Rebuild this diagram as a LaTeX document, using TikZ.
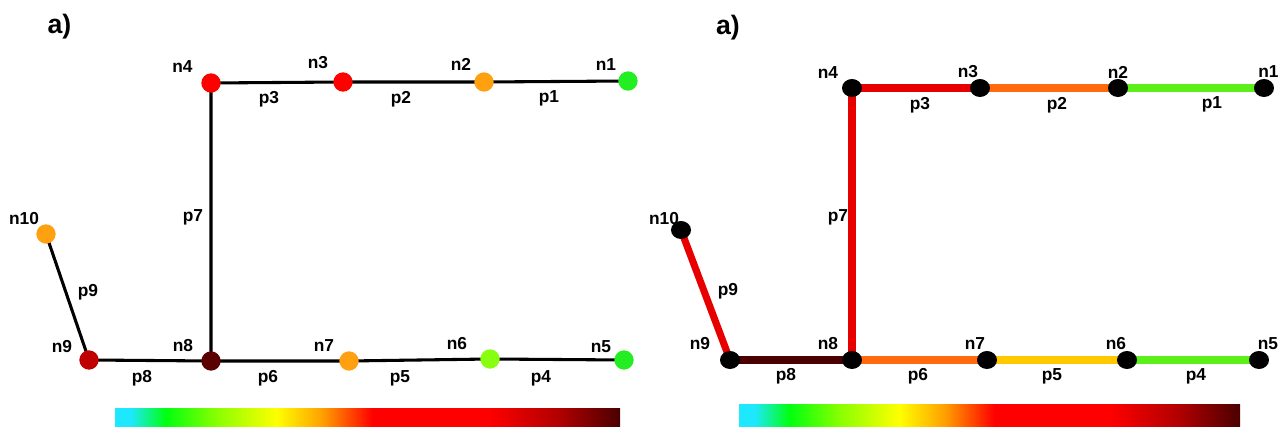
\documentclass[tikz,border=0pt]{standalone}
\usepackage{fontspec}
\setmainfont{Liberation Sans}
\usetikzlibrary{backgrounds,shapes.geometric}
\definecolor{cbA}{HTML}{1EE8FF}
\definecolor{cbB}{HTML}{00FF10}
\definecolor{cbC}{HTML}{88FF00}
\definecolor{cbD}{HTML}{FFFF00}
\definecolor{cbE}{HTML}{FFA000}
\definecolor{cbF}{HTML}{FF0000}
\definecolor{cbG}{HTML}{B00000}
\definecolor{cbH}{HTML}{4A0000}
\pgfdeclarehorizontalshading{cbar}{100bp}{color(0bp)=(cbA); color(25bp)=(cbA); color(26.5bp)=(cbA); color(30bp)=(cbB); color(35bp)=(cbC); color(41bp)=(cbD); color(45.5bp)=(cbE); color(50.5bp)=(cbF); color(62bp)=(cbF); color(69bp)=(cbG); color(75bp)=(cbH); color(100bp)=(cbH)}
\definecolor{ngreen}{HTML}{22EE22}
\definecolor{nlime}{HTML}{88FF10}
\definecolor{norange}{HTML}{FFA010}
\definecolor{nred}{HTML}{FF0000}
\definecolor{ndkred}{HTML}{C00000}
\definecolor{nbrown}{HTML}{5A0000}
\definecolor{egreen}{HTML}{5CF01A}
\definecolor{eorange}{HTML}{FF6A10}
\definecolor{ered}{HTML}{E80000}
\definecolor{egold}{HTML}{FFC800}
\definecolor{ebrown}{HTML}{4A0000}
\begin{document}
\begin{tikzpicture}[x=0.75pt,y=-0.75pt,
  lbl/.style={inner sep=0pt,font=\fontsize{13}{15}\selectfont\bfseries},
  ttl/.style={inner sep=0pt,font=\fontsize{20}{24}\selectfont\bfseries},
  ldot/.style={circle,inner sep=0pt,minimum size=14.5pt},
  rdot/.style={ellipse,inner sep=0pt,minimum width=15pt,minimum height=13.5pt,fill=black},
  thinedge/.style={line width=2.3pt,draw=black},
  thickedge/.style={line width=5.3pt}]
\useasboundingbox (0,0) rectangle (1279,427);
% ---------- left panel ----------
\node[ttl] (LA) at (59.5,27) {a)};
\node[ldot,fill=ngreen]  (L1) at (628,81) {};
\node[ldot,fill=norange] (L2) at (484,82) {};
\node[ldot,fill=nred]    (L3) at (343,82) {};
\node[ldot,fill=nred]    (L4) at (211,83) {};
\node[ldot,fill=ngreen]  (L5) at (624,360) {};
\node[ldot,fill=nlime]   (L6) at (490,359) {};
\node[ldot,fill=norange] (L7) at (349,361) {};
\node[ldot,fill=nbrown]  (L8) at (211,361) {};
\node[ldot,fill=ndkred]  (L9) at (89,360) {};
\node[ldot,fill=norange] (L10) at (46,234) {};
\begin{scope}[on background layer]
\draw[thinedge] (L1.center) -- (L2.center) -- (L3.center) -- (L4.center) -- (L8.center);
\draw[thinedge] (L5.center) -- (L6.center) -- (L7.center) -- (L8.center) -- (L9.center) -- (L10.center);
\end{scope}
\node[lbl] (Ln1) at (606,65) {n1};
\node[lbl] (Ln2) at (461,64) {n2};
\node[lbl] (Ln3) at (318,63) {n3};
\node[lbl] (Ln4) at (182.5,67) {n4};
\node[lbl] (Ln5) at (601,347) {n5};
\node[lbl] (Ln6) at (457,344) {n6};
\node[lbl] (Ln7) at (324,346) {n7};
\node[lbl] (Ln8) at (183,346) {n8};
\node[lbl] (Ln9) at (62,347) {n9};
\node[lbl] (Ln10) at (24,219) {n10};
\node[lbl] (Lp1) at (549,98) {p1};
\node[lbl] (Lp2) at (401,99) {p2};
\node[lbl] (Lp3) at (269,99) {p3};
\node[lbl] (Lp4) at (541,378) {p4};
\node[lbl] (Lp5) at (400,378) {p5};
\node[lbl] (Lp6) at (268,378) {p6};
\node[lbl] (Lp7) at (193,217) {p7};
\node[lbl] (Lp8) at (142,378) {p8};
\node[lbl] (Lp9) at (88,292) {p9};
\shade[shading=cbar] (115,409) rectangle (620,427);
% ---------- right panel ----------
\node[ttl] (RA) at (728,28) {a)};
\node[rdot] (R1) at (1264,88) {};
\node[rdot] (R2) at (1118,88) {};
\node[rdot] (R3) at (980,88) {};
\node[rdot] (R4) at (852,88) {};
\node[rdot] (R5) at (1259,360) {};
\node[rdot] (R6) at (1127,360) {};
\node[rdot] (R7) at (987,360) {};
\node[rdot] (R8) at (852,360) {};
\node[rdot] (R9) at (730,360) {};
\node[rdot] (R10) at (681,230) {};
\begin{scope}[on background layer]
\draw[thickedge,egreen]  (R1.center) -- (R2.center);
\draw[thickedge,eorange] (R2.center) -- (R3.center);
\draw[thickedge,ered]    (R3.center) -- (R4.center);
\draw[thickedge,ered]    (R4.center) -- (R8.center);
\draw[thickedge,egreen]  (R5.center) -- (R6.center);
\draw[thickedge,egold]   (R6.center) -- (R7.center);
\draw[thickedge,eorange] (R7.center) -- (R8.center);
\draw[thickedge,ebrown]  (R8.center) -- (R9.center);
\draw[thickedge,ered]    (R9.center) -- (R10.center);
\end{scope}
\node[lbl] (Rn1) at (1268.5,72) {n1};
\node[lbl] (Rn2) at (1118,72) {n2};
\node[lbl] (Rn3) at (968,72) {n3};
\node[lbl] (Rn4) at (828,73) {n4};
\node[lbl] (Rn5) at (1268,344) {n5};
\node[lbl] (Rn6) at (1116,344) {n6};
\node[lbl] (Rn7) at (975,344) {n7};
\node[lbl] (Rn8) at (828,344) {n8};
\node[lbl] (Rn9) at (700,344) {n9};
\node[lbl] (Rn10) at (664,219) {n10};
\node[lbl] (Rp1) at (1212,104) {p1};
\node[lbl] (Rp2) at (1057,105) {p2};
\node[lbl] (Rp3) at (920,105) {p3};
\node[lbl] (Rp4) at (1196,376) {p4};
\node[lbl] (Rp5) at (1052,376) {p5};
\node[lbl] (Rp6) at (918,376) {p6};
\node[lbl] (Rp7) at (838,217) {p7};
\node[lbl] (Rp8) at (786,376) {p8};
\node[lbl] (Rp9) at (728,291) {p9};
\shade[shading=cbar] (739,405) rectangle (1240,427);
\end{tikzpicture}
\end{document}
